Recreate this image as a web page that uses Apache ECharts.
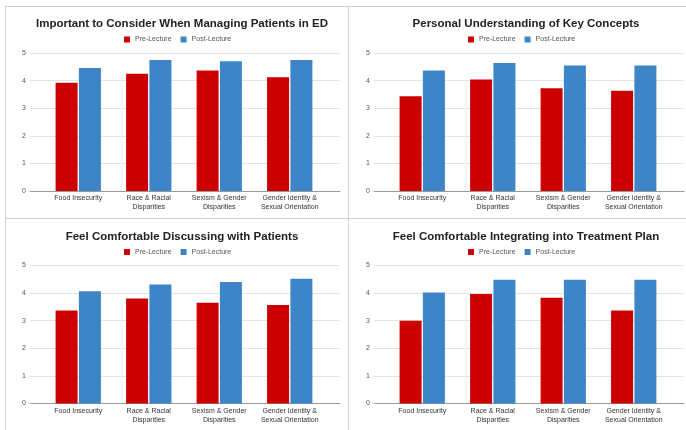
<!DOCTYPE html>
<html>
<head>
<meta charset="utf-8">
<style>
  html, body { margin: 0; padding: 0; background: #fff; }
  #chart { width: 686px; height: 430px; }
</style>
<script src="https://cdn.jsdelivr.net/npm/echarts@6/dist/echarts.min.js"></script>
</head>
<body>
<div id="chart"></div>
<script>
// chart data
var categories = ['Food Insecurity', 'Race & Racial\nDisparities', 'Sexism & Gender\nDisparities', 'Gender Identity &\nSexual Orientation'];
var titles = [
  'Important to Consider When Managing Patients in ED',
  'Personal Understanding of Key Concepts',
  'Feel Comfortable Discussing with Patients',
  'Feel Comfortable Integrating into Treatment Plan'
];
var seriesNames = ['Pre-Lecture', 'Post-Lecture'];
var yTicks = [0, 1, 2, 3, 4, 5];

var considerPre = [3.92, 4.25, 4.37, 4.12];
var considerPost = [4.46, 4.75, 4.70, 4.75];
var understandingPre = [3.43, 4.04, 3.72, 3.63];
var understandingPost = [4.37, 4.64, 4.55, 4.55];
var discussingPre = [3.37, 3.80, 3.65, 3.57];
var discussingPost = [4.07, 4.31, 4.40, 4.52];
var integratingPre = [3.00, 3.97, 3.83, 3.37];
var integratingPost = [4.02, 4.48, 4.48, 4.48];

var panelData = [
  [considerPre, considerPost],
  [understandingPre, understandingPost],
  [discussingPre, discussingPost],
  [integratingPre, integratingPost]
];

var colors = ['#cc0000', '#3d85c6'];
var font = 'Liberation Sans, Arial, sans-serif';

// panel offsets (x, y)
var offsets = [[0, 0], [344, 0], [0, 212.5], [344, 212.5]];

var chart = echarts.init(document.getElementById('chart'));

var option = {
  animation: false,
  color: colors,
  textStyle: { fontFamily: font },
  title: [],
  legend: [],
  grid: [],
  xAxis: [],
  yAxis: [],
  series: [],
  graphic: [
    // panel frame lines
    { type: 'line', shape: { x1: 5.5, y1: 6, x2: 5.5, y2: 430 }, style: { stroke: '#d0d0d0', lineWidth: 1 } },
    { type: 'line', shape: { x1: 5, y1: 6.5, x2: 686, y2: 6.5 }, style: { stroke: '#d0d0d0', lineWidth: 1 } },
    { type: 'line', shape: { x1: 348.5, y1: 6, x2: 348.5, y2: 430 }, style: { stroke: '#d0d0d0', lineWidth: 1 } },
    { type: 'line', shape: { x1: 5, y1: 218.5, x2: 686, y2: 218.5 }, style: { stroke: '#d0d0d0', lineWidth: 1 } }
  ]
};

offsets.forEach(function(o, p) {
  var ox = o[0], oy = o[1];
  option.title.push({
    text: titles[p],
    left: ox + 177,
    top: oy + 13,
    textAlign: 'center',
    textStyle: { fontSize: 11.5, fontWeight: 'bold', color: '#222', fontFamily: font }
  });
  option.legend.push({
    data: seriesNames,
    left: ox + 119,
    top: oy + 31,
    itemWidth: 6,
    itemHeight: 6,
    itemGap: 9,
    icon: 'rect',
    textStyle: { fontSize: 7, color: '#555' }
  });
  // background grid: gridlines + y labels + bottom axis line
  option.grid.push({ left: ox + 30, top: oy + 53, width: 310, height: 138 });
  // foreground grid: bars + category labels
  option.grid.push({ left: ox + 43, top: oy + 53, width: 282, height: 138 });

  var gBg = p * 2, gFg = p * 2 + 1;
  option.xAxis.push({
    type: 'category', gridIndex: gBg, data: [''],
    axisLine: { lineStyle: { color: '#999' } },
    axisTick: { show: false }, axisLabel: { show: false }
  });
  option.xAxis.push({
    type: 'category', gridIndex: gFg, data: categories,
    axisLine: { show: false }, axisTick: { show: false },
    axisLabel: { fontSize: 7, color: '#333', lineHeight: 9, margin: 3, interval: 0 }
  });
  option.yAxis.push({
    type: 'value', gridIndex: gBg, min: yTicks[0], max: yTicks[yTicks.length - 1], interval: 1,
    axisLine: { show: false }, axisTick: { show: false },
    axisLabel: { fontSize: 7, color: '#555', margin: 4 },
    splitLine: { lineStyle: { color: '#e3e3e3' } }
  });
  option.yAxis.push({
    type: 'value', gridIndex: gFg, min: 0, max: 5, interval: 1, show: false
  });
  panelData[p].forEach(function(vals, s) {
    option.series.push({
      name: seriesNames[s],
      type: 'bar',
      xAxisIndex: gFg,
      yAxisIndex: gFg,
      data: vals,
      barWidth: 22,
      barGap: '6%',
      itemStyle: { color: colors[s] }
    });
  });
});

chart.setOption(option);
</script>
</body>
</html>
